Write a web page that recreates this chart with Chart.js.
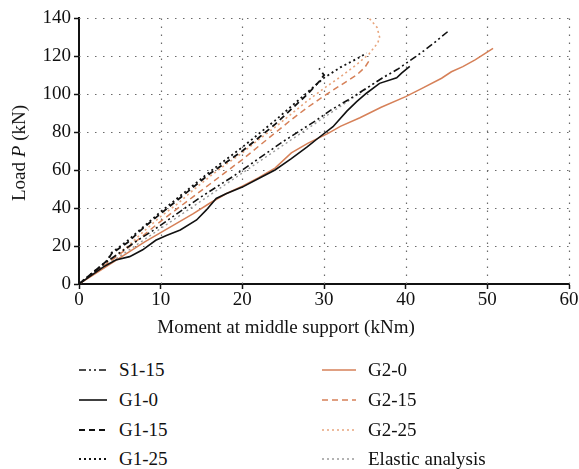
<!DOCTYPE html>
<html>
<head>
<meta charset="utf-8">
<script src="https://cdn.jsdelivr.net/npm/chart.js@4"></script>
<style>
    body { margin: 0; background: #fff; font-family: 'Liberation Serif', serif; }
    #wrap { position: relative; width: 579px; height: 469px; }
    #chartLoad { position: absolute; left: 0; top: 0; }
    #yTitle { position: absolute; left: 19px; top: 153px; transform: translate(-50%, -50%) rotate(-90deg);
        white-space: nowrap; font-size: 19px; color: #111; }
    #xTitle { position: absolute; left: 286px; top: 327px; transform: translate(-50%, -50%);
        white-space: nowrap; font-size: 19px; color: #111; }
    .legItem { position: absolute; display: flex; align-items: center; font-size: 19px; color: #111; height: 22px; }
    .legItem svg { margin-right: 12px; }
</style>
</head>
<body>
<div id="wrap">
    <canvas id="chartLoad" width="579" height="345"></canvas>
    <div id="yTitle">Load <i>P</i> (kN)</div>
    <div id="xTitle">Moment at middle support (kNm)</div>
    <div id="legend"></div>
</div>
<script>
// moment at middle support (kNm) and load (kN) for each test
const s115M = [0, 3.5, 5, 7, 9, 11, 13, 15, 17, 19, 21, 23, 25, 27, 29, 31, 33, 35, 37, 39, 40.5, 42, 43.5, 45.2];
const s115P = [0, 12, 16.5, 22.5, 28, 34, 40, 46, 51.5, 57, 63, 69, 75, 80.5, 86, 92, 97, 102.5, 108, 113, 117.5, 122, 127, 133];

const g10M = [0, 3, 4.5, 6.2, 7.8, 9.4, 10.7, 12.4, 14.4, 15.6, 16.8, 18, 20, 22, 24, 26, 27.9, 29.5, 31.1, 32.8, 34, 35.2, 36.8, 38.9, 39.5, 40.5];
const g10P = [0, 9, 12.6, 14.4, 18, 23, 25.5, 28.4, 33.7, 39, 45, 47.5, 51, 55.5, 60, 66, 72, 77.5, 82.8, 91, 96, 100.4, 105.6, 108.5, 111, 114.5];

const g115M = [0, 3.5, 4, 6, 8, 10, 12, 14, 16, 18, 20, 22, 24, 26, 28, 29.5, 30, 29.4];
const g115P = [0, 12.5, 16, 22, 30, 37, 44, 51, 58, 64, 70, 77, 84, 92, 100, 107, 110, 113.5];

const g125M = [0, 3.5, 4, 6, 8, 10, 12, 14, 16, 18, 20, 22, 24, 26, 28, 30, 32, 34, 35.2];
const g125P = [0, 12.5, 16.5, 23, 30.5, 38, 45, 52, 59, 65.5, 72, 79, 86, 93.5, 101, 108.5, 114, 118.5, 121.5];

const g20M = [0, 2, 4, 6, 8, 10, 12, 14, 16, 17, 18, 20, 22, 24, 26, 28, 30.5, 32, 34.4, 37, 40, 42, 44.4, 45.6, 47, 48.5, 50.7];
const g20P = [0, 5.5, 11, 16.5, 22, 27, 32, 37, 42.5, 45, 47.5, 51.5, 56, 61, 69, 74, 79.3, 83, 87.5, 93, 98.6, 103, 108.3, 111.7, 114.4, 118, 124];

const g215M = [0, 4, 6, 8, 10, 12, 14, 16, 18, 20, 22, 24, 26, 28, 30, 32, 34, 35, 35.6];
const g215P = [0, 12.5, 19, 26, 33, 39.5, 46, 52.5, 59, 65.5, 72.5, 79.5, 86.5, 93, 99, 104.5, 110, 114, 118];

const g225M = [0, 4, 6, 8, 10, 12, 14, 16, 18, 20, 22, 24, 26, 28, 30, 32, 34, 35.5, 36.6, 36.8, 36.5, 35.5];
const g225P = [0, 13, 20, 28, 35.5, 42, 49.5, 56.5, 63, 69, 76, 82.5, 89.5, 96.5, 103, 109, 115.5, 121, 127, 130, 135, 140];

const elasticM = [0, 38];
const elasticP = [0, 111];

const seriesNames = ['S1-15', 'G1-0', 'G1-15', 'G1-25', 'G2-0', 'G2-15', 'G2-25', 'Elastic analysis'];
const xTicks = [0, 10, 20, 30, 40, 50, 60];
const yTicks = [0, 20, 40, 60, 80, 100, 120, 140];

const orange = 'rgb(214,128,88)';
const orangeLight = 'rgb(232,165,125)';

function toPoints(m, p) {
    let pts = [];
    for (let i = 0; i < m.length; i++) {
        pts.push({x: m[i], y: p[i]});
    }
    return pts;
}

const styles = [
    {color: '#111', dash: [7, 3, 2, 3, 2, 3], width: 1.6},
    {color: '#111', dash: [], width: 1.6},
    {color: '#111', dash: [6, 4], width: 1.8},
    {color: '#111', dash: [2, 3], width: 1.8},
    {color: orange, dash: [], width: 1.5},
    {color: orange, dash: [6, 4], width: 1.5},
    {color: orangeLight, dash: [2, 3], width: 1.6},
    {color: '#9a9a9a', dash: [2, 3], width: 1.4}
];
const pairs = [[s115M, s115P], [g10M, g10P], [g115M, g115P], [g125M, g125P],
    [g20M, g20P], [g215M, g215P], [g225M, g225P], [elasticM, elasticP]];

let datasets = [];
for (let i = 0; i < seriesNames.length; i++) {
    datasets.push({
        label: seriesNames[i],
        data: toPoints(pairs[i][0], pairs[i][1]),
        showLine: true,
        fill: false,
        borderColor: styles[i].color,
        backgroundColor: styles[i].color,
        borderDash: styles[i].dash,
        borderWidth: styles[i].width,
        pointRadius: 0,
        tension: 0
    });
}

const tickFont = {family: "'Liberation Serif', serif", size: 19};

// dotted grid drawn under the data, since the border dash option does not reach the grid here
const dottedGrid = {
    id: 'dottedGrid',
    beforeDatasetsDraw(chart) {
        const {ctx, chartArea, scales} = chart;
        ctx.save();
        ctx.strokeStyle = '#6a6a6a';
        ctx.lineWidth = 1.2;
        ctx.setLineDash([1.5, 6.5]);
        xTicks.forEach(v => {
            if (v === xTicks[0]) return;
            const px = Math.round(scales.x.getPixelForValue(v)) + 0.5;
            ctx.beginPath();
            ctx.moveTo(px, chartArea.bottom);
            ctx.lineTo(px, chartArea.top);
            ctx.stroke();
        });
        yTicks.forEach(v => {
            if (v === yTicks[0]) return;
            const py = Math.round(scales.y.getPixelForValue(v)) + 0.5;
            ctx.beginPath();
            ctx.moveTo(chartArea.left, py);
            ctx.lineTo(chartArea.right, py);
            ctx.stroke();
        });
        ctx.restore();
    }
};

const ctxLoad = document.getElementById('chartLoad').getContext('2d');
const loadChart = new Chart(ctxLoad, {
    type: 'scatter',
    data: {datasets: datasets},
    plugins: [dottedGrid],
    options: {
        responsive: false,
        animation: false,
        layout: {padding: {left: 0, right: 10, top: 18, bottom: 0}},
        plugins: {legend: {display: false}, tooltip: {enabled: false}},
        scales: {
            x: {
                type: 'linear', min: xTicks[0], max: xTicks[xTicks.length - 1],
                afterBuildTicks: function (scale) { scale.ticks = xTicks.map(v => ({value: v})); },
                afterFit: function (scale) { scale.height = 61; },
                ticks: {font: tickFont, color: '#111', padding: 0, maxRotation: 0},
                grid: {drawOnChartArea: false, tickLength: 5, tickColor: '#111', tickWidth: 1.5},
                border: {display: true, color: '#111', width: 2}
            },
            y: {
                type: 'linear', min: yTicks[0], max: yTicks[yTicks.length - 1],
                afterBuildTicks: function (scale) { scale.ticks = yTicks.map(v => ({value: v})); },
                afterFit: function (scale) { scale.width = 79; },
                ticks: {font: tickFont, color: '#111', padding: 3},
                grid: {drawOnChartArea: false, tickLength: 5, tickColor: '#111', tickWidth: 1.5},
                border: {display: true, color: '#111', width: 2}
            }
        }
    }
});

// legend in two columns below the chart
const legendCols = [{x: 79, svgW: 28}, {x: 322, svgW: 34}];
const legendRows = [370, 400, 430, 459];
let legendHtml = '';
for (let i = 0; i < seriesNames.length; i++) {
    const col = legendCols[Math.floor(i / 4)];
    const top = legendRows[i % 4] - 11;
    const st = styles[i];
    legendHtml += "<div class='legItem' style='left:" + col.x + "px;top:" + top + "px'>" +
        "<svg width='" + col.svgW + "' height='10'><line x1='0' y1='5' x2='" + col.svgW + "' y2='5' stroke='" + st.color +
        "' stroke-width='" + st.width + "' stroke-dasharray='" + (st.dash.length ? st.dash.join(',') : 'none') + "'/></svg>" +
        "<span>" + seriesNames[i] + "</span></div>";
}
document.getElementById('legend').innerHTML = legendHtml;
</script>
</body>
</html>
